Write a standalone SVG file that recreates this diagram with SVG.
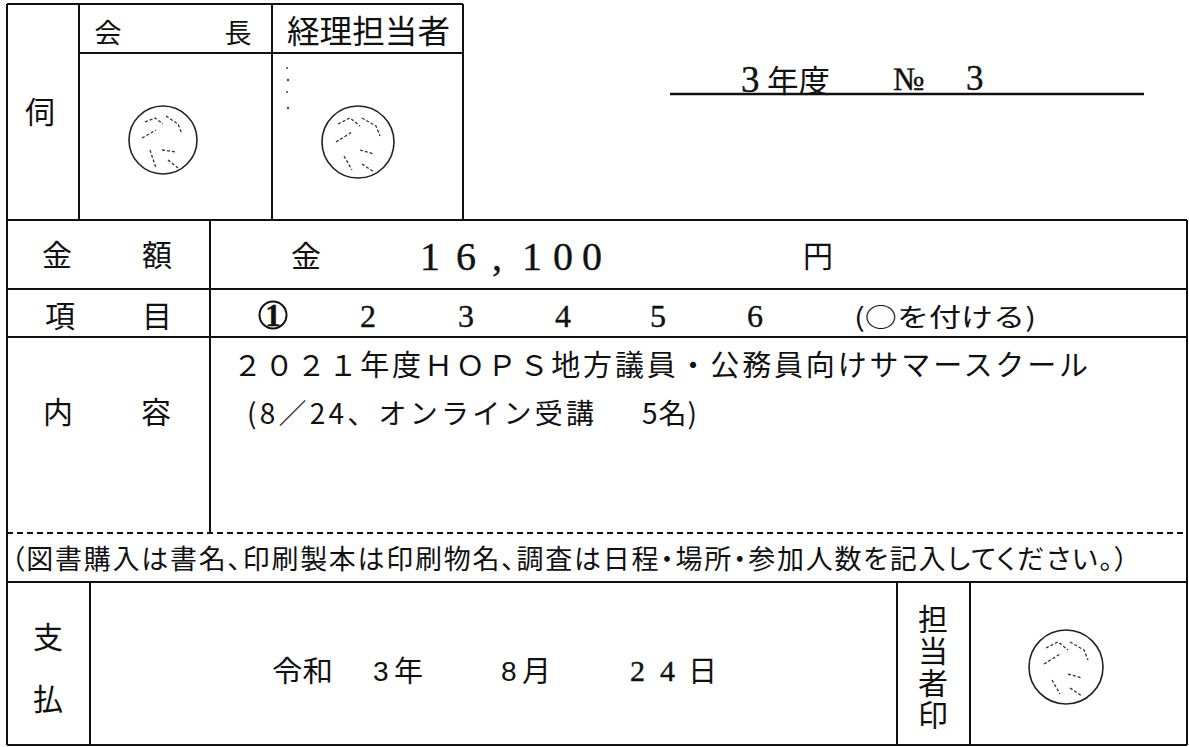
<svg xmlns="http://www.w3.org/2000/svg" width="1189" height="747" viewBox="0 0 1189 747">
<style>
.ln{stroke:#111;stroke-width:2;fill:none}
.dash{stroke:#111;stroke-width:2;stroke-dasharray:6 4;fill:none}
.j{font-family:"Noto Sans CJK JP","Noto Sans CJK SC",sans-serif;fill:#111}
.s{font-family:"Liberation Serif","Noto Sans CJK JP",serif;fill:#111;stroke:#111;stroke-width:0.4}
.g{font-family:"Liberation Sans","Noto Sans CJK JP",sans-serif;fill:#111}
.seal{fill:none;stroke:#222;stroke-width:1.6}
.mark{fill:none;stroke:#333;stroke-width:1.3;stroke-dasharray:3 2}
.dot{fill:#444}
</style>
<rect width="1189" height="747" fill="#fff"/>
<g id="grid">
<path class="ln" d="M7 4H463M7 4V745M79 4V220M272 4V220M463 4V220M79 53H463"/>
<path class="ln" d="M7 220H1187M1187 220V745M7 289H1187M7 337H1187M210 220V533M7 582H1187M90 582V745M897 582V745M970 582V745M7 745H1187"/>
<path class="dash" d="M7 533H1187"/>
<path class="ln" d="M670 94H1144" style="stroke-width:2.5"/>
</g>
<g id="approval">
<text class="j" x="40" y="123" font-size="30" text-anchor="middle">伺</text>
<text class="j" x="108" y="43" font-size="27" text-anchor="middle">会</text>
<text class="j" x="238" y="43" font-size="27" text-anchor="middle">長</text>
<text class="j" x="287" y="43" font-size="32" textLength="163" lengthAdjust="spacingAndGlyphs">経理担当者</text>
<g id="seal-chair">
<circle class="seal" cx="163" cy="140" r="34"/>
<path class="mark" d="M145 122l10 -4 8 6M142 138l14 -8M166 116l12 8 4 10M150 150l6 18M162 150l14 2M168 160l10 8"/>
</g>
<g id="seal-accounting">
<circle class="seal" cx="358" cy="142" r="36"/>
<path class="mark" d="M338 124l12 -6 10 8M336 142l16 -10M362 118l14 8 4 10M344 156l8 14M360 150l14 4M362 164l12 8"/>
<circle class="dot" cx="287" cy="68" r="1"/><circle class="dot" cx="288" cy="80" r="1.2"/><circle class="dot" cx="287" cy="92" r="1"/><circle class="dot" cx="288" cy="108" r="1.2"/>
</g>
</g>
<g id="number">
<text class="s" x="741" y="92" font-size="37">3</text>
<text class="j" x="767" y="92" font-size="31" textLength="63" lengthAdjust="spacingAndGlyphs">年度</text>
<text class="s" x="893" y="90" font-size="33">№</text>
<text class="s" x="966" y="90" font-size="35">3</text>
</g>
<g id="row-amount">
<text class="j" x="57" y="266" font-size="30" text-anchor="middle">金</text>
<text class="j" x="157" y="266" font-size="30" text-anchor="middle">額</text>
<text class="j" x="306" y="267" font-size="30" text-anchor="middle">金</text>
<text class="s" x="430 466 497 532 563 592" y="270" font-size="40" text-anchor="middle">16,100</text>
<text class="j" x="818" y="267" font-size="30" text-anchor="middle">円</text>
</g>
<g id="row-item">
<text class="j" x="60" y="327" font-size="30" text-anchor="middle">項</text>
<text class="j" x="157" y="327" font-size="30" text-anchor="middle">目</text>
<ellipse class="seal" cx="273" cy="315" rx="13.5" ry="13.5" style="stroke:#111;stroke-width:2"/>
<text class="s" x="273" y="326" font-size="31" font-weight="bold" text-anchor="middle">1</text>
<text class="s" x="368 466 563 658 755" y="327" font-size="32" text-anchor="middle">23456</text>
<text class="j" x="854" y="327" font-size="26" textLength="182" lengthAdjust="spacingAndGlyphs">(○を付ける)</text>
</g>
<g id="row-content">
<text class="j" x="58" y="423" font-size="30" text-anchor="middle">内</text>
<text class="j" x="156" y="423" font-size="30" text-anchor="middle">容</text>
<text class="j" x="233" y="376" font-size="29" textLength="855" lengthAdjust="spacing">２０２１年度ＨＯＰＳ地方議員・公務員向けサマースクール</text>
<text class="j" x="247" y="424" font-size="28" textLength="347" lengthAdjust="spacing">(8／24、オンライン受講</text>
<text class="j" x="642" y="424" font-size="28" textLength="55" lengthAdjust="spacing">5名)</text>
</g>
<g id="note">
<text class="j" x="11" y="569" font-size="27" textLength="1117" lengthAdjust="spacing" style="font-feature-settings:'palt'">（図書購入は書名、印刷製本は印刷物名、調査は日程・場所・参加人数を記入してください。）</text>
</g>
<g id="row-payment">
<text class="j" x="48" y="648" font-size="30" text-anchor="middle">支</text>
<text class="j" x="48" y="710" font-size="30" text-anchor="middle">払</text>
<text class="j" x="272" y="682" font-size="29" textLength="61" lengthAdjust="spacingAndGlyphs">令和</text>
<text class="g" x="373" y="681" font-size="28">3</text>
<text class="j" x="394" y="682" font-size="29">年</text>
<text class="g" x="501" y="681" font-size="28">8</text>
<text class="j" x="522" y="682" font-size="29">月</text>
<text class="s" x="630" y="681" font-size="30">2</text>
<text class="s" x="660" y="681" font-size="30">4</text>
<text class="j" x="688" y="682" font-size="29">日</text>
</g>
<g id="person-seal">
<text class="j" x="933" y="604" font-size="30" writing-mode="vertical-rl" textLength="126" lengthAdjust="spacing">担当者印</text>
<circle class="seal" cx="1066" cy="667" r="37"/>
<path class="mark" d="M1046 648l12 -6 10 8M1044 664l16 -10M1070 642l14 8 4 10M1052 680l8 14M1068 674l14 4M1070 688l12 8"/>
</g>
</svg>
